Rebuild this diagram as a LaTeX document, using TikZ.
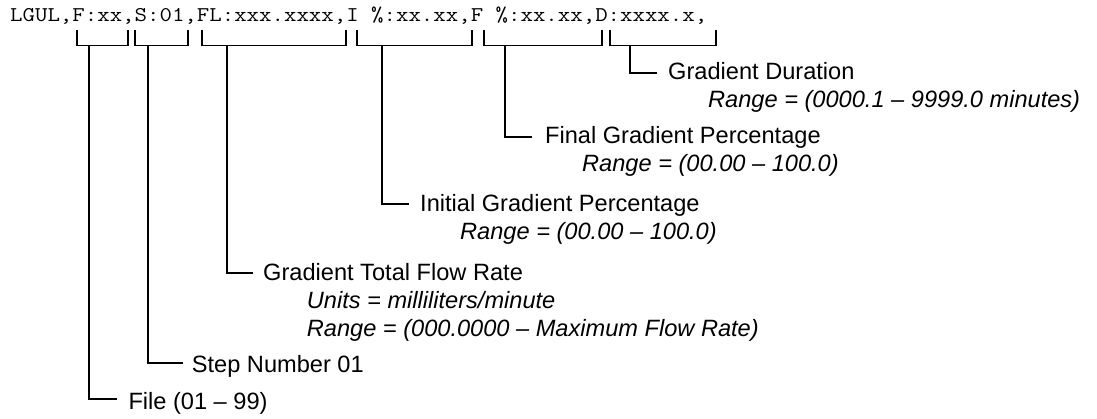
\documentclass[tikz,border=0pt]{standalone}
\usepackage{fontspec}
\setmainfont{Liberation Sans}
\begin{document}
\begin{tikzpicture}[x=1pt,y=-1pt,
  conn/.style={line width=1.7pt},
  lbl/.style={anchor=base west, inner sep=0pt, font=\fontsize{23.6}{28}\selectfont},
  sub/.style={anchor=base west, inner sep=0pt, font=\fontsize{23.6}{28}\selectfont\itshape},
  code/.style={anchor=base west, inner sep=0pt, font=\fontsize{21}{21}\ttfamily}]
\useasboundingbox[fill=white] (0,0) rectangle (1097,418);
% code line
\node[code] (codeline) at (10,21) {\scalebox{1.151}[1]{LGUL,F:xx,S:01,FL:xxx.xxxx,I \%:xx.xx,F \%:xx.xx,D:xxxx.x,}};
\coordinate (bar) at (0,45.5);
% bracket end points (top of ticks)
\coordinate (aL) at (77,30);  \coordinate (aR) at (128,30);
\coordinate (bL) at (135,30); \coordinate (bR) at (188,30);
\coordinate (cL) at (202,30); \coordinate (cR) at (346,30);
\coordinate (dL) at (357,30); \coordinate (dR) at (472,30);
\coordinate (eL) at (484,30); \coordinate (eR) at (602,30);
\coordinate (fL) at (610,30); \coordinate (fR) at (716,30);
\foreach \l/\r in {aL/aR,bL/bR,cL/cR,dL/dR,eL/eR,fL/fR}
  \draw[conn] (\l) -- (\l |- bar) -- (\r |- bar) -- (\r);
% stems
\coordinate (sA) at (89.3,45.5);
\coordinate (sB) at (148.3,45.5);
\coordinate (sC) at (226.7,45.5);
\coordinate (sD) at (381.7,45.5);
\coordinate (sE) at (505,45.5);
\coordinate (sF) at (630,45.5);
% tick ends
\coordinate (tA) at (116.7,399.3);
\coordinate (tB) at (183.3,363.3);
\coordinate (tC) at (253,272.7);
\coordinate (tD) at (408.5,204);
\coordinate (tE) at (532,136.7);
\coordinate (tF) at (657,72.7);
\foreach \s/\t in {sA/tA,sB/tB,sC/tC,sD/tD,sE/tE,sF/tF}
  \draw[conn] (\s) |- (\t);
% labels
\node[lbl] (lF) at (668,79.5) {Gradient Duration};
\node[sub] (lF2) at (708,107.5) {Range = (0000.1 – 9999.0 minutes)};
\node[lbl] (lE) at (545,143.5) {Final Gradient Percentage};
\node[sub] (lE2) at (582,171.5) {Range = (00.00 – 100.0)};
\node[lbl] (lD) at (420,211.5) {Initial Gradient Percentage};
\node[sub] (lD2) at (460,239.5) {Range = (00.00 – 100.0)};
\node[lbl] (lC) at (263,280) {Gradient Total Flow Rate};
\node[sub] (lC2) at (306.7,308) {Units = milliliters/minute};
\node[sub] (lC3) at (306.7,336) {Range = (000.0000 – Maximum Flow Rate)};
\node[lbl] (lB) at (191.7,372) {Step Number 01};
\node[lbl] (lA) at (128.3,409) {File (01 – 99)};
\end{tikzpicture}
\end{document}
